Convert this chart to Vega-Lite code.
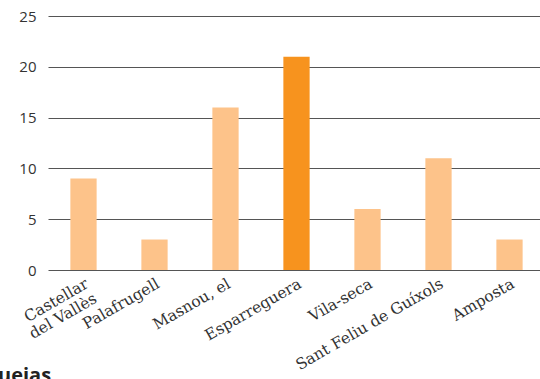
{
  "$schema": "https://vega.github.io/schema/vega-lite/v6.json",
  "width": 497,
  "height": 254,
  "autosize": {"type": "none"},
  "padding": {"left": 48, "top": 16, "right": 0, "bottom": 109},
  "background": "white",
  "title": {
    "text": "ueias",
    "orient": "bottom",
    "anchor": "start",
    "frame": "group",
    "dx": -50,
    "offset": -7,
    "font": "Open Sans",
    "fontSize": 20,
    "fontWeight": "bold",
    "color": "#222"
  },
  "data": {
    "values": [
      {"municipi": "Castellar del Vallès", "valor": 9, "destacat": "no"},
      {"municipi": "Palafrugell", "valor": 3, "destacat": "no"},
      {"municipi": "Masnou, el", "valor": 16, "destacat": "no"},
      {"municipi": "Esparreguera", "valor": 21, "destacat": "si"},
      {"municipi": "Vila-seca", "valor": 6, "destacat": "no"},
      {"municipi": "Sant Feliu de Guíxols", "valor": 11, "destacat": "no"},
      {"municipi": "Amposta", "valor": 3, "destacat": "no"}
    ]
  },
  "mark": {"type": "bar"},
  "encoding": {
    "x": {
      "field": "municipi",
      "type": "nominal",
      "sort": null,
      "scale": {"paddingInner": 0.63, "paddingOuter": 0.315},
      "axis": {
        "title": null,
        "domain": false,
        "ticks": false,
        "labelAngle": -30,
        "labelFont": "DejaVu Serif",
        "labelFontSize": 15.5,
        "labelColor": "#333",
        "labelPadding": 6,
        "labelLineHeight": 17,
        "labelExpr": "datum.label == 'Castellar del Vallès' ? ['Castellar', 'del Vallès'] : datum.label"
      }
    },
    "y": {
      "field": "valor",
      "type": "quantitative",
      "scale": {"domain": [0, 25]},
      "axis": {
        "title": null,
        "values": [0, 5, 10, 15, 20, 25],
        "domain": false,
        "ticks": false,
        "grid": true,
        "gridColor": "#555",
        "gridWidth": 1,
        "gridOpacity": 1,
        "labelFont": "Open Sans",
        "labelFontSize": 15,
        "labelColor": "#333",
        "labelPadding": 12
      }
    },
    "color": {
      "field": "destacat",
      "type": "nominal",
      "scale": {"domain": ["no", "si"], "range": ["#FDC38A", "#F7931E"]},
      "legend": null
    }
  },
  "config": {"view": {"stroke": null}}
}
